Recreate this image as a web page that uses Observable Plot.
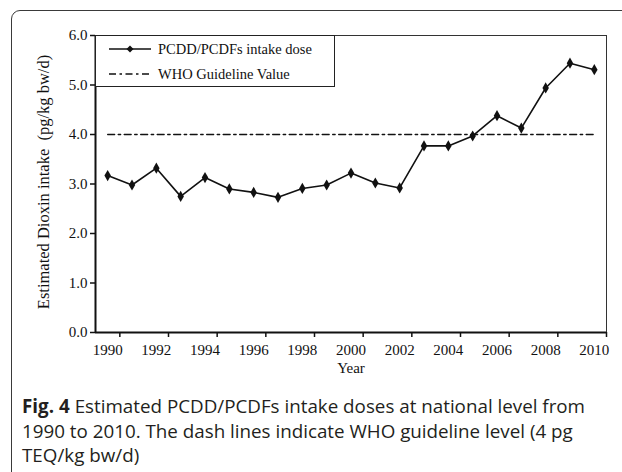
<!DOCTYPE html>
<html>
<head>
<meta charset="utf-8">
<script src="https://cdn.jsdelivr.net/npm/d3@7"></script>
<script src="https://cdn.jsdelivr.net/npm/@observablehq/plot@0.6"></script>
<style>
  html, body { margin: 0; padding: 0; background: #fff; }
  #wrap { position: relative; width: 622px; height: 472px; overflow: hidden; background: #fff; }
  #box { position: absolute; left: 11px; top: 10px; width: 700px; height: 600px; border: 1.6px solid #3a3a3a; border-radius: 9px; box-sizing: border-box; }
  #chart { position: absolute; left: 0; top: 0; }
  #legend { position: absolute; left: 95px; top: 35px; width: 240px; height: 52px; border: 1px solid #222; box-sizing: border-box; background: #fff;
            font-family: "Liberation Serif", "Times New Roman", serif; font-size: 14.5px; color: #111; }
  .li { position: absolute; left: 12px; height: 18px; display: flex; align-items: center; }
  .li svg { margin-right: 6px; }
  #caption { position: absolute; left: 22px; top: 394px; width: 598px; font-family: "Open Sans", "Noto Sans", sans-serif; font-size: 18.8px; line-height: 24.5px; color: #231f20; white-space: nowrap; }
  #caption .ln { display: block; }
  #caption .fig { font-weight: 700; margin-right: 5px; }
</style>
</head>
<body>
<div id="wrap">
  <div id="box"></div>
  <div id="chart"></div>
  <div id="legend">
    <div class="li" style="top:4px"><svg width="44" height="10"><line x1="1" y1="5" x2="43" y2="5" stroke="#111" stroke-width="1.5"/><path d="M22,1.5 L25.5,5 L22,8.5 L18.5,5 Z" fill="#111"/></svg><span>PCDD/PCDFs intake dose</span></div>
    <div class="li" style="top:29px"><svg width="44" height="10"><line x1="1" y1="5" x2="43" y2="5" stroke="#111" stroke-width="1.3" stroke-dasharray="7,3.5,2.5,3.5"/></svg><span>WHO Guideline Value</span></div>
  </div>
  <div id="caption">
    <div class="ln"><span class="fig">Fig. 4</span><span>Estimated PCDD/PCDFs intake doses at national level from</span></div>
    <div class="ln"><span>1990 to 2010. The dash lines indicate WHO guideline level (4 pg</span></div>
    <div class="ln"><span>TEQ/kg bw/d)</span></div>
  </div>
</div>
<script>
const years = [1990,1991,1992,1993,1994,1995,1996,1997,1998,1999,2000,2001,2002,2003,2004,2005,2006,2007,2008,2009,2010];
const intake = [3.17,2.98,3.32,2.75,3.13,2.90,2.83,2.73,2.91,2.98,3.22,3.02,2.92,3.77,3.77,3.97,4.38,4.13,4.94,5.44,5.31];
const whoGuideline = 4.0;
const yTicks = [0,1,2,3,4,5,6];
const xTickLabels = [1990,1992,1994,1996,1998,2000,2002,2004,2006,2008,2010];

const data = years.map((y, i) => ({year: y, value: intake[i]}));
const whoData = years.map(y => ({year: y, value: whoGuideline}));
const boundaries = xTickLabels.map(y => y + 0.5);
const x0 = years[0] - 0.5, x1 = years[years.length - 1] + 0.5;

const chart = Plot.plot({
  width: 622,
  height: 385,
  marginLeft: 95,
  marginRight: 16,
  marginTop: 35,
  marginBottom: 53,
  style: {fontFamily: "'Liberation Serif', 'Times New Roman', serif", fontSize: "15px", color: "#111", background: "transparent"},
  x: {domain: [x0, x1]},
  y: {domain: [0, 6]},
  marks: [
    Plot.frame({stroke: "#333", strokeWidth: 1}),
    Plot.axisY({ticks: yTicks, tickFormat: d => d.toFixed(1), tickSize: 5, tickPadding: 3, label: null, stroke: "#111", strokeWidth: 1.5}),
    Plot.axisX({ticks: boundaries, tickFormat: () => "", tickSize: 5, label: null, stroke: "#111", strokeWidth: 1.5}),
    Plot.axisX({ticks: xTickLabels, tickFormat: d => String(d), tickSize: 0, tickPadding: 12, label: null}),
    Plot.ruleX([x0], {stroke: "#111", strokeWidth: 2}),
    Plot.ruleY([0], {stroke: "#111", strokeWidth: 2}),
    Plot.line(whoData, {x: "year", y: "value", stroke: "#111", strokeWidth: 1.3, strokeDasharray: "7,3.5,2.5,3.5"}),
    Plot.line(data, {x: "year", y: "value", stroke: "#111", strokeWidth: 1.6}),
    Plot.dot(data, {x: "year", y: "value", symbol: "diamond", r: 3.4, fill: "#111", stroke: "none"}),
    Plot.text(["Year"], {frameAnchor: "bottom", dy: 40, text: d => d, fontSize: 15}),
    Plot.text(["Estimated Dioxin intake  (pg/kg bw/d)"], {frameAnchor: "left", textAnchor: "middle", dx: -52, dy: -2, rotate: -90, text: d => d, fontSize: 16.5})
  ]
});
chart.style.overflow = "visible";
document.getElementById("chart").appendChild(chart);
</script>
</body>
</html>
